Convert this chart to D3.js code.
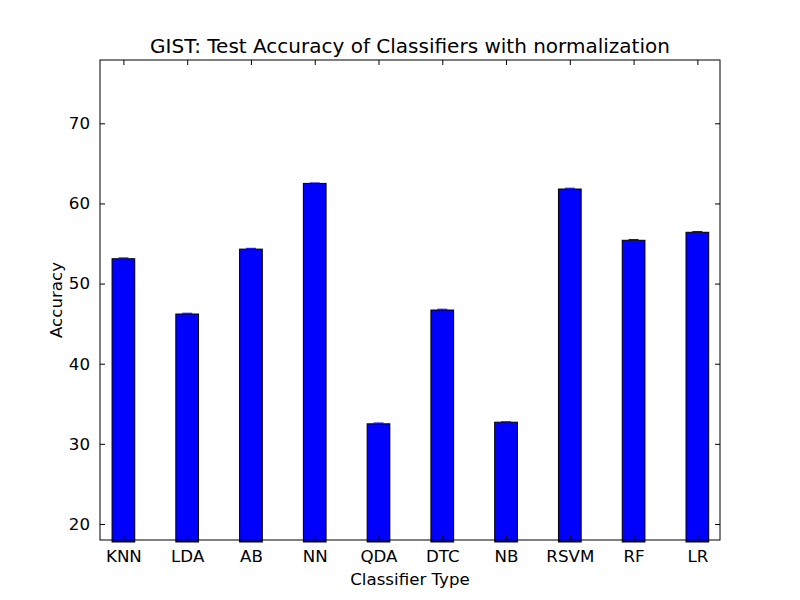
<!DOCTYPE html>
<html>
<head>
<meta charset="utf-8">
<script src="https://cdn.jsdelivr.net/npm/d3@7"></script>
<style>
  body { margin: 0; background: #fff; }
  svg text { font-family: "DejaVu Sans", sans-serif; fill: #000; }
</style>
</head>
<body>
<div class="container"></div>
<script>
var classifiers = ["KNN", "LDA", "AB", "NN", "QDA", "DTC", "NB", "RSVM", "RF", "LR"];
var accuracy = [53.1, 46.2, 54.3, 62.5, 32.5, 46.7, 32.7, 61.8, 55.4, 56.4];
var errors = [0.1, 0.1, 0.1, 0.05, 0.1, 0.1, 0.05, 0.1, 0.1, 0.1];
var yTicks = [20, 30, 40, 50, 60, 70];

var margin = { top: 60, right: 80, bottom: 60, left: 100 },
    width = 800 - margin.left - margin.right,
    height = 600 - margin.top - margin.bottom;

var svg = d3.select(".container")
    .append("svg")
    .attr("width", 800)
    .attr("height", 600)
    .append("g")
    .attr("transform", "translate(" + margin.left + "," + margin.top + ")");

var x = d3.scaleLinear()
    .domain([-0.367, 9.355])
    .range([0, width]);

var y = d3.scaleLinear()
    .domain([18, 77.9])
    .range([height, 0]);

var barW = x(0.356) - x(0);

// bars
svg.append("g")
    .selectAll("rect")
    .data(accuracy)
    .enter()
    .append("rect")
    .attr("x", function (d, i) { return x(i) - barW / 2; })
    .attr("y", function (d) { return y(d); })
    .attr("width", barW)
    .attr("height", function (d) { return height - y(d) + 2; })
    .style("fill", "#0000ff")
    .attr("stroke", "black")
    .attr("stroke-width", 1);

// small error bars
var eb = svg.append("g");
accuracy.forEach(function (d, i) {
    eb.append("line")
        .attr("x1", x(i)).attr("x2", x(i))
        .attr("y1", y(d - errors[i])).attr("y2", y(d + errors[i]))
        .attr("stroke", "#0000ff").attr("stroke-width", 1);
    eb.append("line")
        .attr("x1", x(i) - 5).attr("x2", x(i) + 5)
        .attr("y1", y(d + errors[i])).attr("y2", y(d + errors[i]))
        .attr("stroke", "#0000ff").attr("stroke-width", 1);
});

// frame
svg.append("rect")
    .attr("width", width)
    .attr("height", height)
    .attr("fill", "none")
    .attr("stroke", "black")
    .attr("stroke-width", 1);

var tickLen = 5;

// y ticks left and right (inside)
var yl = svg.append("g")
    .call(d3.axisLeft(y).tickValues(yTicks).tickSize(-tickLen).tickPadding(10).tickSizeOuter(0));
var yr = svg.append("g")
    .attr("transform", "translate(" + width + ",0)")
    .call(d3.axisRight(y).tickValues(yTicks).tickSize(-tickLen).tickFormat("").tickSizeOuter(0));

// x ticks bottom and top (inside)
var xb = svg.append("g")
    .attr("transform", "translate(0," + height + ")")
    .call(d3.axisBottom(x).tickValues(d3.range(classifiers.length))
        .tickFormat(function (i) { return classifiers[i]; })
        .tickSize(-tickLen).tickPadding(10).tickSizeOuter(0));
var xt = svg.append("g")
    .call(d3.axisTop(x).tickValues(d3.range(classifiers.length))
        .tickFormat("").tickSize(-tickLen).tickSizeOuter(0));

[yl, yr, xb, xt].forEach(function (a) {
    a.select(".domain").remove();
    a.selectAll("text").style("font-size", "16.67px");
    a.selectAll("line").attr("stroke", "black");
});

// title and labels
svg.append("text")
    .attr("x", width / 2)
    .attr("y", -7)
    .attr("text-anchor", "middle")
    .style("font-size", "20px")
    .text("GIST: Test Accuracy of Classifiers with normalization");

svg.append("text")
    .attr("x", width / 2)
    .attr("y", height + 45)
    .attr("text-anchor", "middle")
    .style("font-size", "16.67px")
    .text("Classifier Type");

svg.append("text")
    .attr("transform", "translate(-38," + (height / 2) + ") rotate(-90)")
    .attr("text-anchor", "middle")
    .style("font-size", "16.67px")
    .text("Accuracy");
</script>
</body>
</html>
